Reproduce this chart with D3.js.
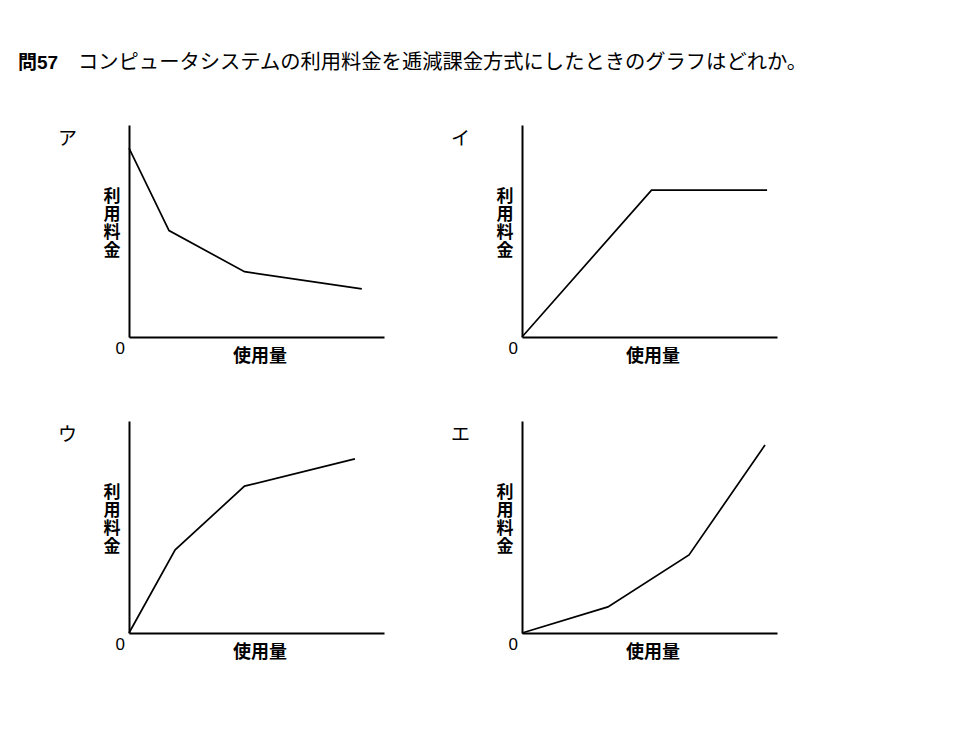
<!DOCTYPE html>
<html><head><meta charset="utf-8">
<script src="https://cdn.jsdelivr.net/npm/d3@7"></script>
<style>
html,body{margin:0;padding:0;background:#fff;}
text{font-family:"Noto Sans CJK JP","Noto Sans",sans-serif;fill:#000;}
</style></head>
<body><svg id="c" width="965" height="750"></svg>
<script>
// ---- data ----
const titleNum = "問57";
const titleText = "コンピュータシステムの利用料金を逓減課金方式にしたときのグラフはどれか。";
const panelLabels = ["ア", "イ", "ウ", "エ"];
const xAxisLabel = "使用量";
const yAxisLabel = "利用料金";
const zeroLabel = "0";
// usage (x, 0-100) and fee (y, 0-100) for each panel's polyline
const usageA = [0, 15.7, 45.3, 91.3];
const feeA   = [89.1, 50.2, 30.8, 22.7];
const usageI = [0, 50.8, 96.1];
const feeI   = [0, 69.3, 69.3];
const usageU = [0, 18.1, 45.3, 88.6];
const feeU   = [0, 39.2, 69.3, 82.1];
const usageE = [0, 33.7, 65.5, 95.3];
const feeE   = [0, 12.3, 36.8, 88.7];

const seriesX = [usageA, usageI, usageU, usageE];
const seriesY = [feeA, feeI, feeU, feeE];

// ---- layout ----
const svg = d3.select("#c");
const origins = [[129, 337], [522, 337], [129, 633], [522, 633]];
const W = 255, H = 212;

svg.append("text").attr("x", 18).attr("y", 69)
  .style("font-size", "19px").style("font-weight", "bold")
  .style("font-family", "'Liberation Sans Narrow','Liberation Sans','Noto Sans CJK JP',sans-serif")
  .text(titleNum);
svg.append("text").attr("x", 78).attr("y", 69)
  .style("font-size", "20.3px")
  .text(titleText);

panelLabels.forEach((lab, i) => {
  const [ox, oy] = origins[i];
  const g = svg.append("g").attr("transform", `translate(${ox},${oy - H})`);
  const x = d3.scaleLinear().domain([0, 100]).range([0, W]);
  const y = d3.scaleLinear().domain([0, 100]).range([H, 0]);

  const ax = g.append("g").attr("transform", `translate(0,${H})`)
    .call(d3.axisBottom(x).tickValues([]).tickSizeOuter(0));
  const ay = g.append("g")
    .call(d3.axisLeft(y).tickValues([]).tickSizeOuter(0));
  [ax, ay].forEach(a => a.select(".domain").attr("stroke", "#000").attr("stroke-width", 2));

  const pts = seriesX[i].map((v, k) => [v, seriesY[i][k]]);
  g.append("path").datum(pts)
    .attr("fill", "none").attr("stroke", "#000").attr("stroke-width", 1.7)
    .attr("stroke-linejoin", "miter")
    .attr("d", d3.line().x(d => x(d[0])).y(d => y(d[1])));

  // panel letter
  g.append("text").attr("x", -71).attr("y", 20).style("font-size", "19px").text(lab);
  // zero
  g.append("text").attr("x", -4).attr("y", H + 17).attr("text-anchor", "end")
    .style("font-size", "17px").style("font-family", "'Liberation Sans',Arial,sans-serif").text(zeroLabel);
  // x label
  g.append("text").attr("x", 131).attr("y", H + 25).attr("text-anchor", "middle")
    .style("font-size", "18px").style("font-weight", "bold").text(xAxisLabel);
  // y label vertical (one character per line)
  const yt = g.append("text").attr("text-anchor", "middle")
    .style("font-size", "17px").style("font-weight", "bold");
  yAxisLabel.split("").forEach((ch, k) => {
    yt.append("tspan").attr("x", -17).attr("y", H - 135 + k * 18).text(ch);
  });
});
</script></body></html>
